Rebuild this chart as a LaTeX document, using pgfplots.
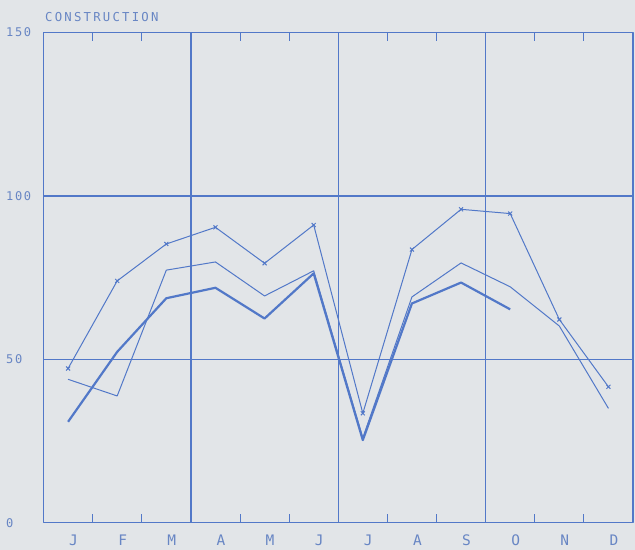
\documentclass[border=0pt]{standalone}
\usepackage{pgfplots}
\pgfplotsset{compat=1.18}
\usepackage{fontspec}
\setmainfont{DejaVu Sans Mono}
\newfontfamily\titlefont[LetterSpace=18]{DejaVu Sans Mono}
\newfontfamily\tickfont[LetterSpace=14]{DejaVu Sans Mono}
\newfontfamily\monthfont{DejaVu Sans Mono}
\definecolor{bg}{RGB}{226,229,232}
\definecolor{ink}{RGB}{82,120,200}
\definecolor{txt}{RGB}{104,134,196}
\begin{document}
\begin{tikzpicture}[x=1bp,y=1bp]
\fill[bg] (0,0) rectangle (635,550);
\begin{axis}[
 at={(43.5bp,27.2bp)}, anchor=south west,
 scale only axis, width=589.5bp, height=490.3bp,
 xmin=0.5, xmax=12.5, ymin=0, ymax=150,
 axis line style={ink, line width=1.4bp},
 xtick={1,...,12}, xticklabels={J,F,M,A,M,J,J,A,S,O,N,D},
 major tick length=0pt,
 minor xtick={1.5,2.5,4.5,5.5,7.5,8.5,10.5,11.5},
 minor tick length=9bp, tick align=inside,
 minor tick style={ink, line width=1bp},
 extra x ticks={3.5,6.5,9.5}, extra x tick labels={},
 extra x tick style={xmajorgrids=true, major tick length=0pt},
 ytick={0,50,100,150}, ymajorgrids=true,
 grid style={ink, line width=1.3bp},
 /pgf/number format/assume math mode=true,
 yticklabel style={font=\tickfont\fontsize{12bp}{14bp}\selectfont, text=txt, anchor=west, inner sep=0pt, xshift=-37.5bp},
 xticklabel style={font=\monthfont\fontsize{14.5bp}{16bp}\selectfont, text=txt, anchor=center, inner sep=0pt, yshift=-17.8bp, xshift=5.5bp},
 clip=false,
 line join=round,
]
\addplot[ink, line width=1bp, mark=x, mark size=2.8bp, mark options={line width=1bp}] coordinates {(1,47.2)(2,74.0)(3,85.3)(4,90.4)(5,79.4)(6,91.1)(7,33.5)(8,83.6)(9,95.9)(10,94.6)(11,62.2)(12,41.6)};
\addplot[ink, line width=1bp] coordinates {(1,43.9)(2,38.8)(3,77.3)(4,79.8)(5,69.4)(6,77.1)(7,26)(8,69.1)(9,79.5)(10,72.2)(11,60.2)(12,35.0)};
\addplot[ink, line width=2.2bp] coordinates {(1,30.9)(2,52.3)(3,68.7)(4,71.9)(5,62.5)(6,76.3)(7,25.3)(8,67.1)(9,73.5)(10,65.3)};
\end{axis}
\node[anchor=west, inner sep=0pt, text=txt, font=\titlefont\fontsize{12.3bp}{14bp}\selectfont] at (45,533) {CONSTRUCTION};
\pgfresetboundingbox
\useasboundingbox (0,0) rectangle (635,550);
\end{tikzpicture}
\end{document}
